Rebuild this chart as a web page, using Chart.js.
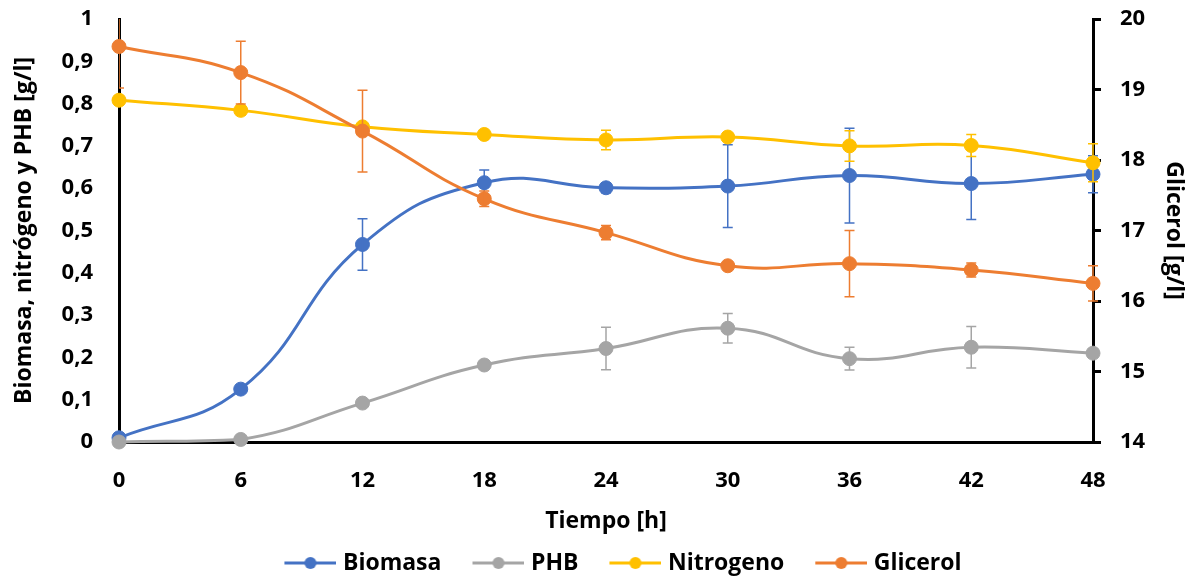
<!DOCTYPE html>
<html>
<head>
<meta charset="utf-8">
<script src="https://cdn.jsdelivr.net/npm/chart.js@4.4.1/dist/chart.umd.min.js"></script>
<style>
  html, body { margin: 0; padding: 0; background: #fff; }
  #wrap { width: 1193px; height: 579px; }
</style>
</head>
<body>
<div id="wrap"><canvas id="chart" width="1193" height="579"></canvas></div>
<script>
// time points (h)
const tiempo = ['0', '6', '12', '18', '24', '30', '36', '42', '48'];

// left axis series [g/l]
const biomasa      = [0.010, 0.125, 0.467, 0.613, 0.601, 0.605, 0.630, 0.611, 0.633];
const biomasaErr   = [0, 0, 0.061, 0.03, 0.012, 0.098, 0.112, 0.085, 0.044];
const phb          = [0.000, 0.006, 0.092, 0.182, 0.221, 0.269, 0.197, 0.224, 0.210];
const phbErr       = [0, 0, 0, 0, 0.05, 0.035, 0.027, 0.049, 0];
const nitrogeno    = [0.808, 0.784, 0.745, 0.727, 0.714, 0.721, 0.700, 0.701, 0.660];
const nitrogenoErr = [0, 0.011, 0, 0, 0.023, 0, 0.036, 0.026, 0.045];

// right axis series [g/l]
const glicerol     = [19.61, 19.24, 18.41, 17.45, 16.97, 16.50, 16.53, 16.44, 16.25];
const glicerolErr  = [0.59, 0.445, 0.58, 0.11, 0.1, 0, 0.47, 0.1, 0.25];

// tick labels
const leftTicks  = ['0', '0,1', '0,2', '0,3', '0,4', '0,5', '0,6', '0,7', '0,8', '0,9', '1'];
const rightTicks = ['14', '15', '16', '17', '18', '19', '20'];

const BLUE = '#4472C4', GREY = '#A5A5A5', YELLOW = '#FFC000', ORANGE = '#ED7D31';

Chart.defaults.font.family = "'Open Sans', sans-serif";
Chart.defaults.font.weight = 'bold';
Chart.defaults.color = '#000';

// legend marker: short line with a dot, like the spreadsheet legend
function legendIcon(color) {
  const c = document.createElement('canvas');
  c.width = 78; c.height = 16;
  const g = c.getContext('2d');
  g.strokeStyle = color; g.lineWidth = 3;
  g.beginPath(); g.moveTo(26, 8); g.lineTo(78, 8); g.stroke();
  g.fillStyle = color;
  g.beginPath(); g.arc(52, 8, 6, 0, Math.PI * 2); g.fill();
  return c;
}
const icons = [legendIcon(BLUE), legendIcon(GREY), legendIcon(YELLOW), legendIcon(ORANGE)];

// draw error bars right after each dataset so later series cover them
const errorBars = {
  id: 'errorBars',
  afterDatasetDraw(chart, args) {
    const ds = chart.data.datasets[args.index];
    if (!ds.errors) return;
    const meta = args.meta;
    const yScale = chart.scales[ds.yAxisID];
    const area = chart.chartArea;
    const ctx = chart.ctx;
    ctx.save();
    ctx.beginPath();
    ctx.rect(area.left, area.top, area.right - area.left + 20, area.bottom - area.top);
    ctx.clip();
    ctx.strokeStyle = ds.borderColor;
    ctx.lineWidth = 1.5;
    meta.data.forEach((pt, i) => {
      const e = ds.errors[i];
      if (!e) return;
      const v = ds.data[i];
      const yHi = yScale.getPixelForValue(v + e);
      const yLo = yScale.getPixelForValue(v - e);
      ctx.beginPath();
      ctx.moveTo(pt.x, yHi); ctx.lineTo(pt.x, yLo);
      ctx.moveTo(pt.x - 5, yHi); ctx.lineTo(pt.x + 5, yHi);
      ctx.moveTo(pt.x - 5, yLo); ctx.lineTo(pt.x + 5, yLo);
      ctx.stroke();
    });
    ctx.restore();
  }
};

// nudge the legend row to where the reference has it
const legendPlace = {
  id: 'legendPlace',
  afterLayout(chart) {
    const lg = chart.legend;
    const h = lg.bottom - lg.top;
    lg.left += 16; lg.right += 16;
    lg.top = 563 - 10 - 11.5;
    lg.bottom = lg.top + h;
  }
};

function series(label, data, errors, color, axis, order) {
  return {
    label, data, errors, yAxisID: axis, order,
    borderColor: color, backgroundColor: color,
    borderWidth: 3, tension: 0.45,
    pointRadius: 7, pointHoverRadius: 7,
    pointBorderWidth: 1, pointBackgroundColor: color, pointBorderColor: color,
    clip: false
  };
}

// fixed vertical axis width, no extra label padding above/below the plot
function fixWidth(w) {
  return scale => { scale.width = w; scale.paddingTop = 0; scale.paddingBottom = 0; };
}

new Chart(document.getElementById('chart'), {
  type: 'line',
  data: {
    labels: tiempo,
    datasets: [
      series('Biomasa', biomasa, biomasaErr, BLUE, 'y', 4),
      series('PHB', phb, phbErr, GREY, 'y', 3),
      series('Nitrogeno', nitrogeno, nitrogenoErr, YELLOW, 'y', 2),
      series('Glicerol', glicerol, glicerolErr, ORANGE, 'y1', 1)
    ]
  },
  options: {
    responsive: false,
    animation: false,
    layout: { padding: { top: 19, left: 0, right: 0, bottom: 0 } },
    plugins: {
      tooltip: { enabled: false },
      legend: {
        position: 'bottom',
        labels: {
          usePointStyle: true,
          pointStyleWidth: 68,
          padding: 10,
          font: { size: 23, weight: 'bold' },
          color: '#000',
          sort: (a, b) => a.datasetIndex - b.datasetIndex,
          generateLabels(chart) {
            const items = Chart.defaults.plugins.legend.labels.generateLabels(chart);
            items.forEach(it => { it.pointStyle = icons[it.datasetIndex]; });
            return items;
          }
        }
      }
    },
    scales: {
      x: {
        type: 'category',
        offset: false,
        grid: { display: false, drawTicks: false },
        border: { display: true, color: '#000', width: 3 },
        ticks: { padding: 26, maxRotation: 0, font: { size: 22, weight: 'bold' }, color: '#000' },
        title: { display: true, text: 'Tiempo [h]', font: { size: 23, weight: 'bold' }, color: '#000', padding: { top: 0, bottom: 1 } },
        afterFit(scale) { scale.height = 94; }
      },
      y: {
        position: 'left',
        min: 0, max: 1,
        grid: { display: false, drawTicks: false },
        border: { display: true, color: '#000', width: 3 },
        ticks: {
          stepSize: 0.1, padding: 26,
          font: { size: 22, weight: 'bold' }, color: '#000',
          callback: (v, i) => leftTicks[i]
        },
        title: { display: true, text: 'Biomasa, nitrógeno y PHB [g/l]', font: { size: 23, weight: 'bold' }, color: '#000', padding: { top: 11, bottom: 0 } },
        afterFit: fixWidth(119)
      },
      y1: {
        position: 'right',
        min: 14, max: 20,
        grid: { display: true, drawOnChartArea: false, drawTicks: true, tickLength: 8, color: '#000', lineWidth: 3 },
        border: { display: true, color: '#000', width: 3 },
        ticks: {
          stepSize: 1, padding: 19,
          font: { size: 22, weight: 'bold' }, color: '#000',
          callback: (v, i) => rightTicks[i]
        },
        title: { display: true, text: 'Glicerol [g/l]', font: { size: 23, weight: 'bold' }, color: '#000', padding: { top: 6, bottom: 0 } },
        afterFit: fixWidth(100)
      }
    }
  },
  plugins: [errorBars, legendPlace]
});
</script>
</body>
</html>
